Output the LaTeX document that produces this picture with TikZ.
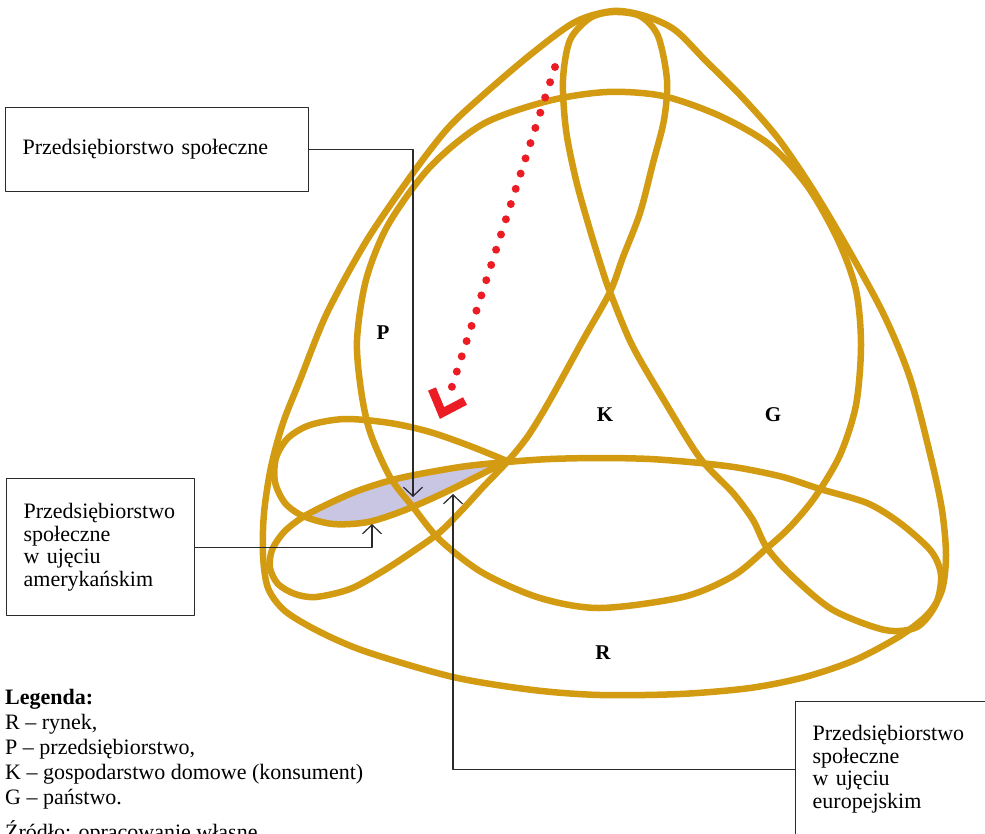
\documentclass[tikz,border=0pt]{standalone}
\usepackage{fontspec}
\setmainfont{Liberation Serif}
\usepackage{tikz}
\usetikzlibrary{arrows.meta}
\definecolor{psgold}{HTML}{D39B12}
\definecolor{psred}{HTML}{EC1C24}
\definecolor{pslav}{HTML}{C8C6E2}
\definecolor{psline}{HTML}{2A2A2A}
\newcommand{\boxfont}{\fontsize{22}{22.6}\selectfont}
\newcommand{\legfont}{\fontsize{22}{25}\selectfont}
\tikzset{
  every picture/.style={line cap=round, line join=round},
  loopline/.style={draw=psgold, line width=6.5pt},
  lens/.style={fill=pslav},
  region/.style={font=\bfseries\fontsize{21}{22}\selectfont, inner sep=0pt},
  legendtxt/.style={anchor=base west, font=\legfont, inner sep=0pt},
  callbox/.style={draw=psline, line width=1.3pt, inner xsep=17pt, align=left,
    font=\boxfont, anchor=north west},
  callout/.style={psline, line width=1.2pt, -{Straight Barb[length=9pt,width=19pt]}},
  reddots/.style={psred, line width=8pt, line cap=round, dash pattern=on 0pt off 16pt},
  redhead/.style={psred, line width=8.5pt, line cap=butt, line join=miter},
}

\begin{document}
\begin{tikzpicture}[x=1pt, y=-1pt]
\useasboundingbox (0,0) rectangle (985,833);
% shaded lens between the small loop and the knot
\fill[lens] plot[smooth] coordinates {(303,517) (330,503) (360,490) (400,478) (460,467) (507,462)}
  -- plot[smooth] coordinates {(507,461) (450,490) (405,510) (368,522) (333,524) (303,516)} -- cycle;
% outer contour
\draw[loopline] plot[smooth cycle] coordinates {
  (613,11) (575,22) (530,55) (482,96) (448,128) (413,173) (367,240) (327,313)
  (300,380) (283,423) (271,467) (264,513) (263,555) (268,588) (285,611) (320,632)
  (367,652) (453,677) (533,690) (600,695) (680,694) (750,688) (805,677) (855,660)
  (900,636) (928,614) (942,590) (946,555) (942,510) (931,458) (910,378) (883,313)
  (843,240) (810,185) (777,137) (742,97) (705,60) (675,30) (645,16)};
% big ring
\draw[loopline] plot[smooth cycle] coordinates {
  (607,92) (663,96) (720,116) (770,145) (808,187) (838,240) (856,290) (861,345)
  (856,405) (840,455) (815,497) (790,527) (767,548) (733,576) (683,597) (600,608)
  (540,598) (483,573) (440,540) (413,507) (390,477) (370,432) (361,390) (357,340)
  (366,280) (388,225) (430,167) (483,124) (548,101)};
% three-lobed knot
\draw[loopline] plot[smooth cycle] coordinates {
  (613,12) (590,18) (570,40) (563,80) (566,130) (576,180) (590,230) (603,272)
  (610,292) (632,345) (665,402) (700,458) (733,493) (753,520) (767,548) (793,577)
  (833,610) (885,630) (917,627) (936,604) (941,575) (931,551) (900,523) (867,503)
  (820,489) (783,477) (740,468) (700,463) (650,459) (600,458) (550,459) (507,462)
  (460,467) (400,478) (360,490) (330,503) (303,517) (284,532) (272,550) (270,568)
  (278,584) (295,594) (316,597) (350,589) (383,571) (415,550) (440,532) (462,510)
  (484,486) (507,462) (528,436) (550,400) (583,340) (610,292) (623,257) (640,213)
  (653,163) (664,120) (667,80) (658,36) (640,16)};
% small loop on the left
\draw[loopline] plot[smooth] coordinates {
  (507,461) (470,446) (430,432) (390,423) (345,419) (310,425) (288,438) (276,458)
  (275,482) (285,503) (303,516) (333,524) (368,522) (405,510) (450,490) (507,461)};
% region letters
\node[region] (lblP) at (383,333) {P};
\node[region] (lblK) at (605,415) {K};
\node[region] (lblG) at (773,415) {G};
\node[region] (lblR) at (603,653) {R};
% red dotted arrow
\coordinate (redtop) at (555,67);
\coordinate (redend) at (447,402);
\coordinate (redarmA) at (432,389);
\coordinate (redtip) at (442,413);
\coordinate (redarmB) at (465,401);
\draw[reddots] (redtop) -- (redend);
\draw[redhead] (redarmA) -- (redtip) -- (redarmB);
% callout boxes
\node[callbox, text width=269pt, minimum height=84pt] (boxsoc) at (5,107) {Przedsiębiorstwo społeczne};
\node[callbox, text width=154pt, minimum height=137pt] (boxame) at (6,478)
  {Przedsiębiorstwo\\ społeczne\\ w ujęciu\\ amerykańskim};
\node[callbox, text width=170pt, minimum height=135pt] (boxeur) at (795,701)
  {Przedsiębiorstwo\\ społeczne\\ w ujęciu\\ europejskim};
\coordinate (tipsoc) at (413,497);
\coordinate (tipame) at (372,524);
\coordinate (tipeur) at (453,494);
\draw[callout] (boxsoc.east) -| (tipsoc);
\draw[callout] (boxame.east) -| (tipame);
\draw[callout] (boxeur.west) -| (tipeur);
% legend
\node[legendtxt, font=\bfseries\legfont] (leghead) at (5,704) {Legenda:};
\node[legendtxt] (legR) at (5,729) {R -- rynek,};
\node[legendtxt] (legP) at (5,754) {P -- przedsiębiorstwo,};
\node[legendtxt] (legK) at (5,779) {K -- gospodarstwo domowe (konsument)};
\node[legendtxt] (legG) at (5,804) {G -- państwo.};
\node[legendtxt] (legsrc) at (5,839) {Źródło: opracowanie własne};
\end{tikzpicture}
\end{document}
